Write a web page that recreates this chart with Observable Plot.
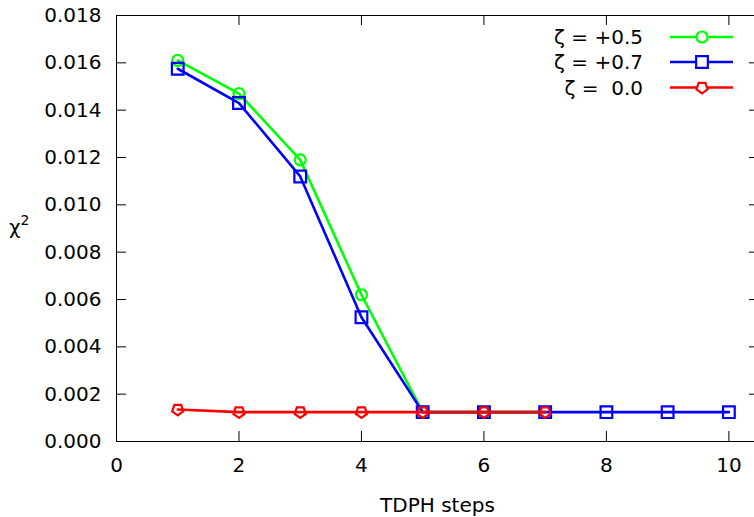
<!DOCTYPE html>
<html>
<head>
<meta charset="utf-8">
<script src="https://cdn.jsdelivr.net/npm/d3@7"></script>
<script src="https://cdn.jsdelivr.net/npm/@observablehq/plot@0.6"></script>
<style>
  body { margin: 0; background: #fff; }
  #wrap { position: relative; width: 754px; height: 517px; overflow: hidden; font-family: "DejaVu Sans", sans-serif; background: #fff; }
  #chart, #overlay { position: absolute; left: 0; top: 0; }
  #chart svg { max-width: none !important; }
</style>
</head>
<body>
<div id="wrap"><div id="chart"></div><svg id="overlay" width="754" height="517"></svg></div>
<script>
// ---- data ----
const stepsA = [1, 2, 3, 4, 5, 6, 7];
const stepsB = [1, 2, 3, 4, 5, 6, 7, 8, 9, 10];
const zeta05 = [0.0161, 0.0147, 0.0119, 0.0062, 0.00124, 0.00124, 0.00124];
const zeta07 = [0.01575, 0.0143, 0.0112, 0.00525, 0.00124, 0.00124, 0.00124, 0.00124, 0.00124, 0.00124];
const zeta00 = [0.00135, 0.00124, 0.00124, 0.00124, 0.00124, 0.00124, 0.00124];
const seriesNames = ["ζ = +0.5", "ζ = +0.7", "ζ =  0.0"];
const seriesColors = ["#00ff00", "#0000ff", "#ff0000"];
const xTicks = [0, 2, 4, 6, 8, 10];
const yTicks = [0, 0.002, 0.004, 0.006, 0.008, 0.010, 0.012, 0.014, 0.016, 0.018];
const xLabel = "TDPH steps";

// pentagon symbol (point down)
const pentagon = {
  draw(ctx, size) {
    const R = Math.sqrt(size / Math.PI) * 1.1;
    for (let i = 0; i < 5; i++) {
      const a = Math.PI / 2 + i * 2 * Math.PI / 5;
      const px = R * Math.cos(a), py = R * Math.sin(a);
      if (i === 0) ctx.moveTo(px, py); else ctx.lineTo(px, py);
    }
    ctx.closePath();
  }
};

const mk = (xs, ys) => xs.map((x, i) => ({x, y: ys[i]}));
const dA = mk(stepsA, zeta05), dB = mk(stepsB, zeta07), dC = mk(stepsA, zeta00);
const symbols = ["circle", "square", pentagon];
const radii = [5.5, 6.6, 5.3];
const datasets = [dA, dB, dC];

const W = 770, H = 517, mL = 116, mR = 11, mT = 15, mB = 76;
const innerW = W - mL - mR, innerH = H - mT - mB;

const marks = [
  Plot.axisX(xTicks, {tickSize: 0, tickPadding: 16, label: null, tickFormat: d => String(d)}),
  Plot.axisY(yTicks, {tickSize: 0, tickPadding: 15, label: null, tickFormat: d3.format(".3f")}),
  Plot.ruleX(xTicks, {x: d => d, insetTop: innerH - 10, stroke: "black", strokeWidth: 1}),
  Plot.ruleX(xTicks, {x: d => d, insetBottom: innerH - 10, stroke: "black", strokeWidth: 1}),
  Plot.ruleY(yTicks, {y: d => d, insetRight: innerW - 10, stroke: "black", strokeWidth: 1}),
  Plot.ruleY(yTicks, {y: d => d, insetLeft: innerW - 10, stroke: "black", strokeWidth: 1}),
  Plot.frame({stroke: "black", strokeWidth: 1})
];
datasets.forEach((d, i) => {
  marks.push(Plot.line(d, {x: "x", y: "y", stroke: seriesColors[i], strokeWidth: 2.6}));
  marks.push(Plot.dot(d, {x: "x", y: "y", symbol: symbols[i], r: radii[i], stroke: seriesColors[i], fill: "none", strokeWidth: 2.2}));
});

const chart = Plot.plot({
  width: W, height: H,
  marginLeft: mL, marginRight: mR, marginTop: mT, marginBottom: mB,
  style: {fontFamily: "DejaVu Sans", fontSize: "20px", background: "white", color: "black", maxWidth: "none"},
  x: {domain: [0, 10.5]},
  y: {domain: [0, 0.018]},
  marks
});
document.getElementById("chart").appendChild(chart);

// ---- overlay: axis titles and legend ----
const ov = d3.select("#overlay").style("font-family", "DejaVu Sans").style("font-size", "20px");
const yt = ov.append("text").attr("x", 9).attr("y", 234);
yt.append("tspan").text("χ");
yt.append("tspan").attr("font-size", "14px").attr("dy", "-9").text("2");
ov.append("text").attr("x", (mL + W - mR) / 2).attr("y", 512).attr("text-anchor", "middle").text(xLabel);

const legY = [37, 62, 87.5];
seriesNames.forEach((name, i) => {
  const y = legY[i];
  ov.append("text").attr("x", 643).attr("y", y).attr("dy", "0.36em")
    .attr("text-anchor", "end").style("white-space", "pre").attr("xml:space", "preserve").text(name);
  ov.append("line").attr("x1", 670).attr("x2", 733).attr("y1", y).attr("y2", y)
    .attr("stroke", seriesColors[i]).attr("stroke-width", 2.6);
  const t = typeof symbols[i] === "string" ? (symbols[i] === "circle" ? d3.symbolCircle : d3.symbolSquare) : symbols[i];
  ov.append("path").attr("transform", `translate(702,${y})`)
    .attr("d", d3.symbol(t, Math.PI * radii[i] * radii[i])())
    .attr("fill", "white").attr("stroke", seriesColors[i]).attr("stroke-width", 2.2);
});
</script>
</body>
</html>
